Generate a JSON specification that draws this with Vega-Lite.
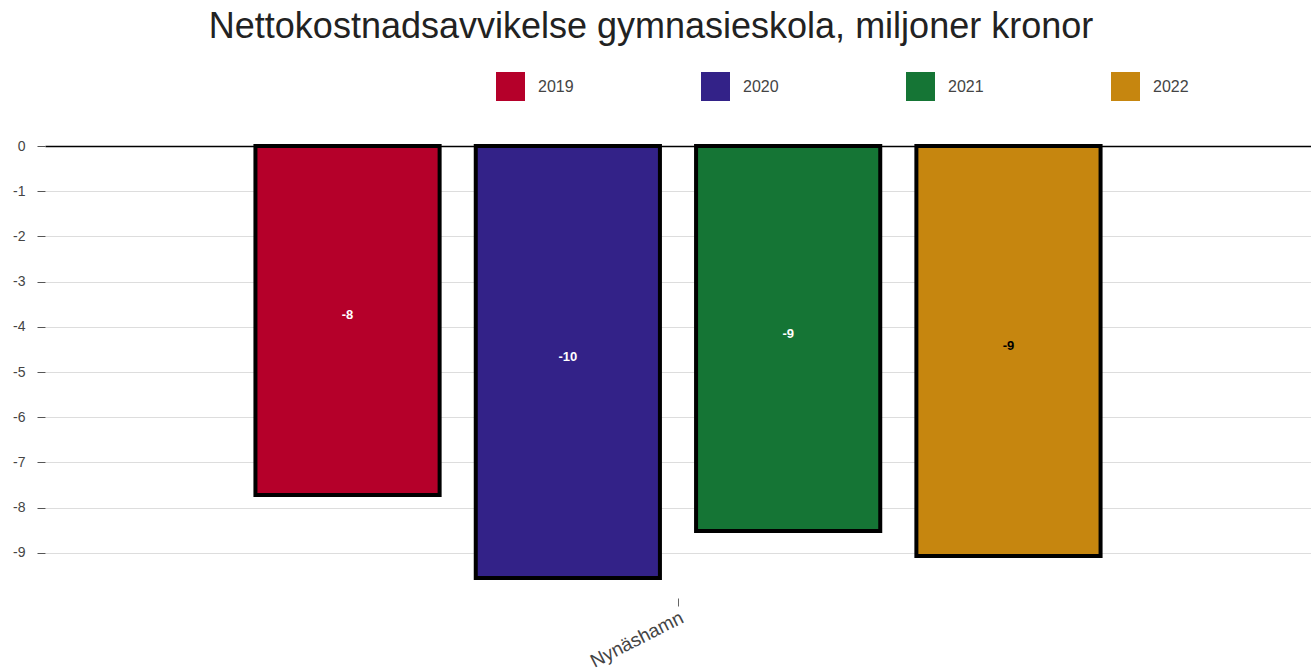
{
  "$schema": "https://vega.github.io/schema/vega-lite/v6.json",
  "width": 1266,
  "height": 452,
  "autosize": {"type": "none"},
  "padding": {"left": 45, "top": 146, "right": 0, "bottom": 74},
  "background": "white",
  "title": {
    "text": "Nettokostnadsavvikelse gymnasieskola, miljoner kronor",
    "fontSize": 36,
    "font": "Liberation Sans",
    "fontWeight": "normal",
    "color": "#222222",
    "anchor": "middle",
    "dx": -27,
    "offset": 26
  },
  "data": {
    "values": [
      {"kommun": "Nynäshamn", "year": "2019", "value": -7.72},
      {"kommun": "Nynäshamn", "year": "2020", "value": -9.56},
      {"kommun": "Nynäshamn", "year": "2021", "value": -8.52},
      {"kommun": "Nynäshamn", "year": "2022", "value": -9.07}
    ]
  },
  "config": {
    "view": {"stroke": null},
    "font": "Liberation Sans",
    "locale": {"number": {"decimal": ".", "thousands": ",", "grouping": [3], "currency": ["", ""], "minus": "-"}}
  },
  "encoding": {
    "x": {
      "field": "kommun",
      "type": "nominal",
      "scale": {"paddingInner": 0, "paddingOuter": 0.249},
      "axis": {
        "title": null,
        "labelAngle": -27,
        "domain": false,
        "ticks": true,
        "tickSize": 8,
        "tickColor": "#666666",
        "labelFontSize": 19,
        "labelColor": "#444444",
        "labelFont": "Liberation Sans",
        "labelPadding": 2
      }
    },
    "xOffset": {
      "field": "year",
      "type": "nominal",
      "scale": {"paddingInner": 0.164, "paddingOuter": 0}
    }
  },
  "layer": [
    {
      "mark": {"type": "bar", "stroke": "black", "strokeWidth": 4},
      "encoding": {
        "y": {
          "field": "value",
          "type": "quantitative",
          "scale": {"domain": [-10, 0], "nice": false},
          "axis": {
            "title": null,
            "values": [0, -1, -2, -3, -4, -5, -6, -7, -8, -9],
            "domain": false,
            "tickSize": 8,
            "tickColor": "#555555",
            "labelFontSize": 14,
            "labelColor": "#444444",
            "labelFont": "Liberation Sans",
            "labelPadding": 12,
            "gridColor": {"condition": {"test": "datum.value === 0", "value": "black"}, "value": "#dddddd"},
            "gridWidth": {"condition": {"test": "datum.value === 0", "value": 1.5}, "value": 1}
          }
        },
        "color": {
          "field": "year",
          "type": "nominal",
          "scale": {"domain": ["2019", "2020", "2021", "2022"], "range": ["#b5002a", "#332288", "#157535", "#c6860f"]},
          "legend": {
            "title": null,
            "orient": "none",
            "direction": "horizontal",
            "legendX": 451,
            "legendY": -74,
            "symbolType": "square",
            "symbolSize": 841,
            "symbolStrokeWidth": 0,
            "symbolOpacity": 1,
            "labelFontSize": 16,
            "labelColor": "#444444",
            "labelFont": "Liberation Sans",
            "labelOffset": 13,
            "columnPadding": 127,
            "padding": 0
          }
        }
      }
    },
    {
      "transform": [{"calculate": "datum.value / 2", "as": "mid"}],
      "mark": {"type": "text", "fontWeight": "bold", "fontSize": 13, "dy": -5, "font": "Liberation Sans"},
      "encoding": {
        "y": {"field": "mid", "type": "quantitative"},
        "text": {"field": "value", "type": "quantitative", "format": ".0f"},
        "color": {"condition": {"test": "datum.year === '2022'", "value": "black"}, "value": "white"}
      }
    }
  ]
}
